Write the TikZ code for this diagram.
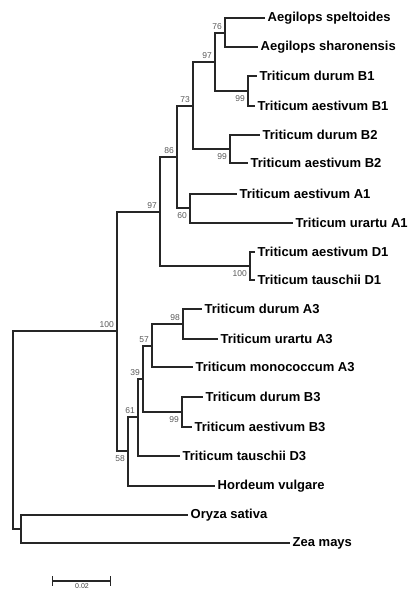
\documentclass[tikz,border=0pt]{standalone}
\usepackage{fontspec}
\setmainfont{Liberation Sans}

\begin{document}
\begin{tikzpicture}[x=1pt,y=-1pt,
  branch/.style={line width=1.35pt,color=black!85},
  taxon/.style={anchor=west,inner sep=2.5pt,font=\fontsize{13}{15}\selectfont\bfseries},
  bsup/.style={anchor=south east,inner sep=1pt,xshift=-2pt,yshift=2pt,text=black!65,font=\fontsize{8.5}{10}\selectfont},
  bsdown/.style={anchor=north east,inner sep=1pt,xshift=-2pt,yshift=-3pt,text=black!65,font=\fontsize{8.5}{10}\selectfont}]
\useasboundingbox (0,0) rectangle (408,590);

\node[taxon](spelt) at (265,18) {Aegilops speltoides};
\node[taxon](sharon) at (258,47) {Aegilops sharonensis};
\node[taxon](durB1) at (257,76) {Triticum durum B1};
\node[taxon](aesB1) at (255,106) {Triticum aestivum B1};
\node[taxon](durB2) at (260,135) {Triticum durum B2};
\node[taxon](aesB2) at (248,163) {Triticum aestivum B2};
\node[taxon](aesA1) at (237,194) {Triticum aestivum A1};
\node[taxon](uraA1) at (293,223) {Triticum urartu A1};
\node[taxon](aesD1) at (255,252) {Triticum aestivum D1};
\node[taxon](tauD1) at (255,280) {Triticum tauschii D1};
\node[taxon](durA3) at (202,309) {Triticum durum A3};
\node[taxon](uraA3) at (218,339) {Triticum urartu A3};
\node[taxon](monA3) at (193,367) {Triticum monococcum A3};
\node[taxon](durB3) at (203,397) {Triticum durum B3};
\node[taxon](aesB3) at (192,427) {Triticum aestivum B3};
\node[taxon](tauD3) at (180,456) {Triticum tauschii D3};
\node[taxon](hordeum) at (215,486) {Hordeum vulgare};
\node[taxon](oryza) at (188,515) {Oryza sativa};
\node[taxon](zea) at (290,543) {Zea mays};

\coordinate (n76) at (225,33);
\coordinate (nB1) at (248,91);
\coordinate (n97a) at (215,62);
\coordinate (nB2) at (230,149);
\coordinate (n73) at (193,106);
\coordinate (n60) at (190,208);
\coordinate (n86) at (177,157);
\coordinate (nD1) at (250,266);
\coordinate (n97b) at (160,212);
\coordinate (n98) at (183,324);
\coordinate (n57) at (152,346);
\coordinate (nB3) at (182,412);
\coordinate (n39) at (143,379);
\coordinate (n61) at (138,417);
\coordinate (n58) at (128,451);
\coordinate (n100) at (117,331);
\coordinate (nOZ) at (21,529);
\coordinate (root) at (13,430);

\draw[branch](n76) |- (spelt.west);
\draw[branch](n76) |- (sharon.west);
\draw[branch](nB1) |- (durB1.west);
\draw[branch](nB1) |- (aesB1.west);
\draw[branch](n97a) |- (n76);
\draw[branch](n97a) |- (nB1);
\draw[branch](nB2) |- (durB2.west);
\draw[branch](nB2) |- (aesB2.west);
\draw[branch](n73) |- (n97a);
\draw[branch](n73) |- (nB2);
\draw[branch](n60) |- (aesA1.west);
\draw[branch](n60) |- (uraA1.west);
\draw[branch](n86) |- (n73);
\draw[branch](n86) |- (n60);
\draw[branch](nD1) |- (aesD1.west);
\draw[branch](nD1) |- (tauD1.west);
\draw[branch](n97b) |- (n86);
\draw[branch](n97b) |- (nD1);
\draw[branch](n98) |- (durA3.west);
\draw[branch](n98) |- (uraA3.west);
\draw[branch](n57) |- (n98);
\draw[branch](n57) |- (monA3.west);
\draw[branch](nB3) |- (durB3.west);
\draw[branch](nB3) |- (aesB3.west);
\draw[branch](n39) |- (n57);
\draw[branch](n39) |- (nB3);
\draw[branch](n61) |- (n39);
\draw[branch](n61) |- (tauD3.west);
\draw[branch](n58) |- (n61);
\draw[branch](n58) |- (hordeum.west);
\draw[branch](n100) |- (n97b);
\draw[branch](n100) |- (n58);
\draw[branch](nOZ) |- (oryza.west);
\draw[branch](nOZ) |- (zea.west);
\draw[branch](root) |- (n100);
\draw[branch](root) |- (nOZ);

\node[bsup] at (n76) {76};
\node[bsup] at (n97a) {97};
\node[bsdown] at (nB1) {99};
\node[bsup] at (n73) {73};
\node[bsdown] at (nB2) {99};
\node[bsup] at (n86) {86};
\node[bsdown] at (n60) {60};
\node[bsup] at (n97b) {97};
\node[bsdown] at (nD1) {100};
\node[bsup] at (n100) {100};
\node[bsup] at (n98) {98};
\node[bsup] at (n57) {57};
\node[bsup] at (n39) {39};
\node[bsdown] at (nB3) {99};
\node[bsup] at (n61) {61};
\node[bsdown] at (n58) {58};

\coordinate (barl) at (52,581);
\coordinate (barr) at (111,581);
\draw[branch,|-|](barl) -- (barr);
\node[anchor=south,inner sep=0.5pt,text=black!75,font=\fontsize{7}{8}\selectfont](barlabel) at (82,589) {0.02};
\end{tikzpicture}
\end{document}
